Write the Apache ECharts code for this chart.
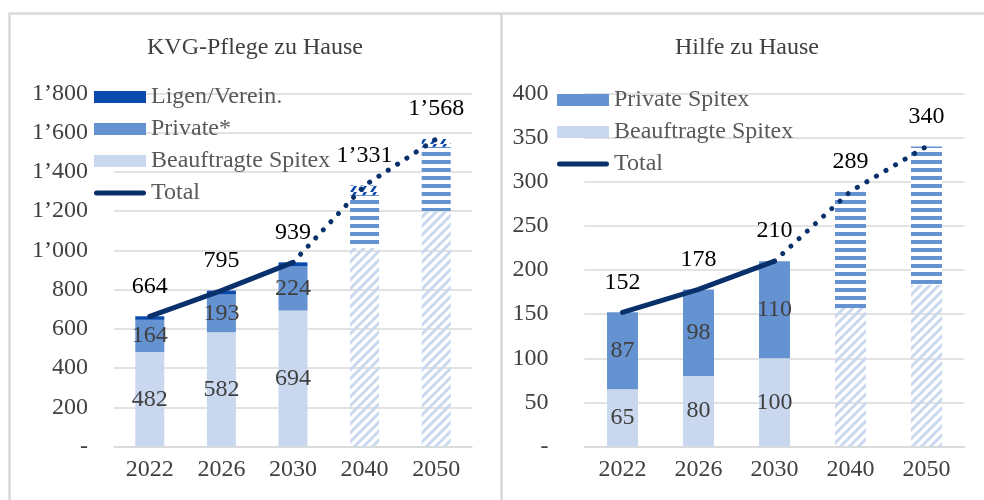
<!DOCTYPE html>
<html>
<head>
<meta charset="utf-8">
<script src="https://cdn.jsdelivr.net/npm/echarts@6/dist/echarts.min.js"></script>
<style>
html,body{margin:0;padding:0;background:#fff;}
#c{width:984px;height:500px;}
</style>
</head>
<body>
<div id="c"></div>
<script>
// ---- data ----
const years = ['2022', '2026', '2030', '2040', '2050'];
const kvgBeauftragt = [482, 582, 694, 1013, 1201];
const kvgPrivate = [164, 193, 224, 269, 327];
const kvgLigen = [18, 20, 21, 49, 40];
const kvgTotal = [664, 795, 939, 1331, 1568];
const hzhBeauftragt = [65, 80, 100, 157, 183];
const hzhPrivate = [87, 98, 110, 132, 157];
const hzhTotal = [152, 178, 210, 289, 340];
const firstProjected = 3;

// ---- styles ----
const FONT = "'Liberation Serif', 'Times New Roman', serif";
const FS = 24;
const C_LIGEN = '#0a4aad';
const C_PRIV = '#6592d0';
const C_BEAUF = '#c9d8ee';
const C_TOTAL = '#08306b';
const C_GRID = '#d9d9d9';

function patDiag(color) {
  const s = 9, cv = document.createElement('canvas');
  cv.width = s; cv.height = s;
  const g = cv.getContext('2d');
  g.strokeStyle = color; g.lineWidth = 3; g.lineCap = 'square';
  g.beginPath();
  g.moveTo(-2, s + 2); g.lineTo(s + 2, -2);
  g.moveTo(-2, 2); g.lineTo(2, -2);
  g.moveTo(s - 2, s + 2); g.lineTo(s + 2, s - 2);
  g.stroke();
  return { image: cv, repeat: 'repeat' };
}
function patHoriz(color) {
  const cv = document.createElement('canvas');
  cv.width = 4; cv.height = 8;
  const g = cv.getContext('2d');
  g.fillStyle = '#ffffff'; g.fillRect(0, 0, 4, 8);
  g.fillStyle = color; g.fillRect(0, 0, 4, 4);
  return { image: cv, repeat: 'repeat' };
}
function patDash(color) {
  const cv = document.createElement('canvas');
  cv.width = 10; cv.height = 6;
  const g = cv.getContext('2d');
  g.fillStyle = '#ffffff'; g.fillRect(0, 0, 10, 6);
  g.fillStyle = color;
  g.beginPath(); g.moveTo(0, 6); g.lineTo(4, 0); g.lineTo(7, 0); g.lineTo(3, 6); g.closePath(); g.fill();
  return { image: cv, repeat: 'repeat' };
}

function barData(vals, pattern) {
  return vals.map((v, i) => i >= firstProjected
    ? { value: v, itemStyle: { color: pattern }, label: { show: false } }
    : v);
}
function solidLine(vals) { return vals.map((v, i) => i < firstProjected ? v : null); }
function dottedLine(vals) {
  return vals.map((v, i) => i >= firstProjected - 1
    ? { value: v, label: { show: i >= firstProjected } } : null);
}
function fmtThousands(v) {
  if (v === 0) return '-';
  const s = String(v);
  return s.length > 3 ? s.slice(0, s.length - 3) + '\u2019' + s.slice(-3) : s;
}

const segLabel = { show: true, position: 'inside', color: '#404040', fontSize: FS, fontFamily: FONT };
const totLabel = { show: true, position: 'top', distance: 18, color: '#000', fontSize: FS, fontFamily: FONT,
  formatter: p => fmtThousands(p.value) };

function xAxis(gi) {
  return {
    type: 'category', gridIndex: gi, data: years,
    axisTick: { show: false },
    axisLine: { lineStyle: { color: C_GRID, width: 1.5 } },
    axisLabel: { color: '#404040', fontSize: FS, fontFamily: FONT, margin: 11 }
  };
}
function yAxis(gi, max, interval, margin) {
  return {
    type: 'value', gridIndex: gi, min: 0, max: max, interval: interval,
    axisLine: { show: false }, axisTick: { show: false },
    splitLine: { lineStyle: { color: C_GRID, width: 1.5 } },
    axisLabel: { color: '#404040', fontSize: FS, fontFamily: FONT, margin: margin, formatter: fmtThousands }
  };
}

const totalIcon = 'path://M2.5,0 L49.5,0 A2.5,2.5 0 0 1 49.5,5 L2.5,5 A2.5,2.5 0 0 1 2.5,0 Z';
const legendBase = {
  orient: 'vertical', itemWidth: 52, itemHeight: 12, itemGap: 8, icon: 'rect',
  selectedMode: false, padding: 0,
  textStyle: { color: '#595959', fontSize: FS, fontFamily: FONT, lineHeight: 24 }
};

function lineSeries(name, gi, data, dotted) {
  return {
    name: name, type: 'line', xAxisIndex: gi, yAxisIndex: gi, z: 5,
    symbol: 'circle', symbolSize: 0.1, showSymbol: true,
    itemStyle: { color: C_TOTAL },
    lineStyle: dotted ? { color: C_TOTAL, width: 5, cap: 'round', type: [0.1, 11] }
                      : { color: C_TOTAL, width: 5, cap: 'round' },
    label: totLabel, data: data
  };
}

const option = {
  animation: false,
  backgroundColor: '#fff',
  grid: [
    { left: 114, right: 512, top: 93.5, bottom: 53.5 },
    { left: 584.5, right: 19.5, top: 93.5, bottom: 53.5 }
  ],
  xAxis: [xAxis(0), xAxis(1)],
  yAxis: [yAxis(0, 1800, 200, 26), yAxis(1, 400, 50, 36)],
  legend: [
    Object.assign({}, legendBase, {
      left: 94, top: 85,
      data: ['Ligen/Verein.', 'Private*', 'Beauftragte Spitex',
        { name: 'Total', icon: totalIcon, itemStyle: { color: C_TOTAL } }]
    }),
    Object.assign({}, legendBase, {
      left: 557, top: 88,
      data: ['Private Spitex', 'Beauftragte Spitex',
        { name: 'Total', icon: totalIcon, itemStyle: { color: C_TOTAL } }]
    })
  ],
  graphic: [
    { type: 'polyline', silent: true, shape: { points: [[9.5, 600], [9.5, 13.5], [1000, 13.5]] }, style: { stroke: C_GRID, lineWidth: 2.5, fill: null } },
    { type: 'line', silent: true, shape: { x1: 501.5, y1: 13.5, x2: 501.5, y2: 600 }, style: { stroke: C_GRID, lineWidth: 2.5 } },
    { type: 'text', silent: true, x: 255, y: 48, style: { text: 'KVG-Pflege zu Hause', fill: '#404040', font: FS + 'px ' + FONT, textAlign: 'center', textVerticalAlign: 'middle' } },
    { type: 'text', silent: true, x: 747, y: 48, style: { text: 'Hilfe zu Hause', fill: '#404040', font: FS + 'px ' + FONT, textAlign: 'center', textVerticalAlign: 'middle' } }
  ],
  series: [
    // KVG-Pflege zu Hause
    { name: 'Beauftragte Spitex', type: 'bar', stack: 'kvg', xAxisIndex: 0, yAxisIndex: 0, barWidth: 29,
      itemStyle: { color: C_BEAUF }, label: segLabel, data: barData(kvgBeauftragt, patDiag(C_BEAUF)) },
    { name: 'Private*', type: 'bar', stack: 'kvg', xAxisIndex: 0, yAxisIndex: 0, barWidth: 29,
      itemStyle: { color: C_PRIV }, label: segLabel, data: barData(kvgPrivate, patHoriz(C_PRIV)) },
    { name: 'Ligen/Verein.', type: 'bar', stack: 'kvg', xAxisIndex: 0, yAxisIndex: 0, barWidth: 29,
      itemStyle: { color: C_LIGEN }, data: barData(kvgLigen, patDash(C_LIGEN)) },
    lineSeries('Total', 0, solidLine(kvgTotal), false),
    lineSeries('Total-proj-kvg', 0, dottedLine(kvgTotal), true),
    // Hilfe zu Hause
    { name: 'Beauftragte Spitex', type: 'bar', stack: 'hzh', xAxisIndex: 1, yAxisIndex: 1, barWidth: 31,
      itemStyle: { color: C_BEAUF }, label: segLabel, data: barData(hzhBeauftragt, patDiag(C_BEAUF)) },
    { name: 'Private Spitex', type: 'bar', stack: 'hzh', xAxisIndex: 1, yAxisIndex: 1, barWidth: 31,
      itemStyle: { color: C_PRIV }, label: segLabel, data: barData(hzhPrivate, patHoriz(C_PRIV)) },
    lineSeries('Total', 1, solidLine(hzhTotal), false),
    lineSeries('Total-proj-hzh', 1, dottedLine(hzhTotal), true)
  ]
};

const chart = echarts.init(document.getElementById('c'), null, { renderer: 'canvas' });
chart.setOption(option);
</script>
</body>
</html>
